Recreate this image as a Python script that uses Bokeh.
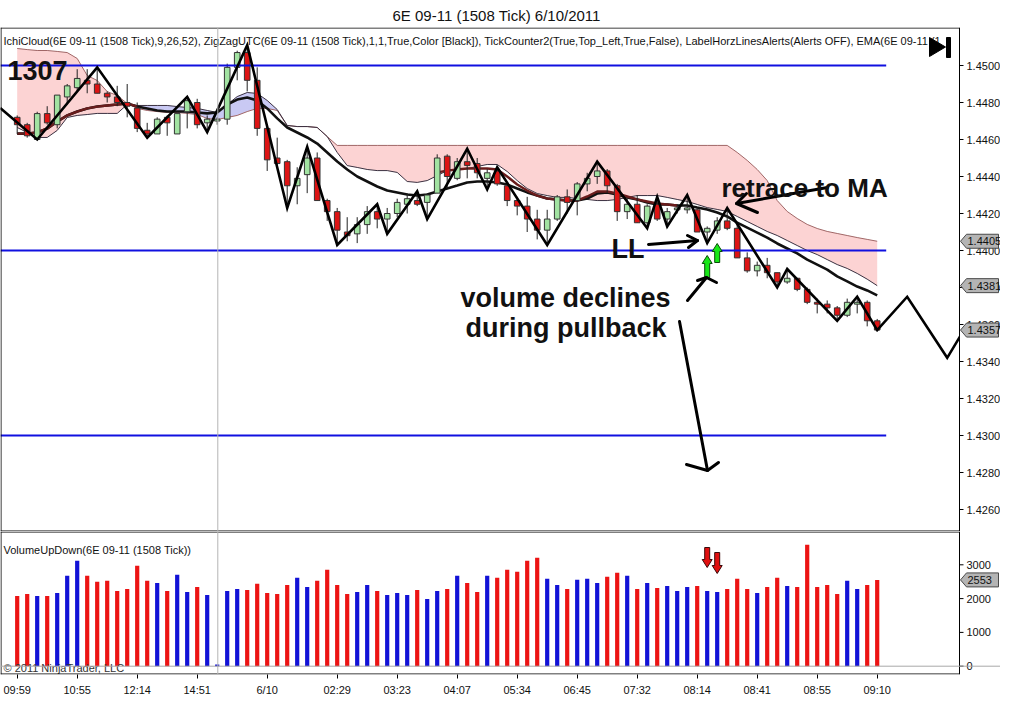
import math
from bokeh.plotting import figure
from bokeh.layouts import column
from bokeh.models import Range1d, Span, Label, ColumnDataSource, Title
from bokeh.core.properties import value
from bokeh.embed import file_html
from bokeh.resources import INLINE

# ---------------- data ----------------
TITLE = "6E 09-11 (1508 Tick)  6/10/2011"
INDICATORS = ("IchiCloud(6E 09-11 (1508 Tick),9,26,52), ZigZagUTC(6E 09-11 (1508 Tick),1,1,True,Color [Black]), "
              "TickCounter2(True,Top_Left,True,False), LabelHorzLinesAlerts(Alerts OFF), EMA(6E 09-11 (1")
VOL_TITLE = "VolumeUpDown(6E 09-11 (1508 Tick))"
COPYRIGHT = "\u00a9 2011 NinjaTrader, LLC"
TICK_COUNT = "1307"

opens = [1.4472, 1.4468, 1.4460, 1.4474, 1.4468, 1.4483, 1.4488, 1.4492, 1.4490, 1.4485,
         1.4483, 1.4480, 1.4477, 1.4465, 1.4463, 1.4472, 1.4463, 1.4475, 1.4480, 1.4469,
         1.4470, 1.4471, 1.4499, 1.4507, 1.4492, 1.4466, 1.4450, 1.4448, 1.4435, 1.4441,
         1.4450, 1.4427, 1.4421, 1.4410, 1.4409, 1.4414, 1.4421, 1.4417, 1.4420, 1.4425,
         1.4427, 1.4426, 1.4431, 1.4451, 1.4439, 1.4448, 1.4447, 1.4439, 1.4443, 1.4435,
         1.4427, 1.4424, 1.4417, 1.4411, 1.4417, 1.4429, 1.4427, 1.4436, 1.4440, 1.4443,
         1.4435, 1.4421, 1.4425, 1.4415, 1.4425, 1.4417, 1.4422, 1.4422, 1.4422, 1.4410,
         1.4411, 1.4416, 1.4412, 1.4396, 1.4389, 1.4392, 1.4388, 1.4383, 1.4385, 1.4379,
         1.4372, 1.4371, 1.4369, 1.4365, 1.4371, 1.4372, 1.4362]
highs = [1.4473, 1.4469, 1.4475, 1.4478, 1.4484, 1.4490, 1.4498, 1.4498, 1.4499, 1.4486,
         1.4489, 1.4490, 1.4480, 1.4469, 1.4472, 1.4473, 1.4474, 1.4483, 1.4482, 1.4473,
         1.4472, 1.4501, 1.4508, 1.4511, 1.4499, 1.4466, 1.4461, 1.4449, 1.4445, 1.4456,
         1.4453, 1.4428, 1.4423, 1.4418, 1.4418, 1.4424, 1.4425, 1.4423, 1.4428, 1.4431,
         1.4432, 1.4431, 1.4452, 1.4452, 1.4450, 1.4455, 1.4450, 1.4444, 1.4445, 1.4437,
         1.4429, 1.4429, 1.4422, 1.4422, 1.4430, 1.4433, 1.4437, 1.4442, 1.4448, 1.4444,
         1.4436, 1.4428, 1.4430, 1.4425, 1.4429, 1.4423, 1.4425, 1.4430, 1.4423, 1.4413,
         1.4418, 1.4423, 1.4414, 1.4399, 1.4394, 1.4396, 1.4388, 1.4390, 1.4385, 1.4380,
         1.4374, 1.4373, 1.4370, 1.4374, 1.4375, 1.4373, 1.4363]
lows = [1.4463, 1.4461, 1.4460, 1.4468, 1.4466, 1.4479, 1.4486, 1.4485, 1.4485, 1.4480,
        1.4478, 1.4472, 1.4464, 1.4461, 1.4463, 1.4462, 1.4463, 1.4466, 1.4466, 1.4464,
        1.4468, 1.4468, 1.4492, 1.4486, 1.4462, 1.4443, 1.4446, 1.4423, 1.4425, 1.4431,
        1.4427, 1.4416, 1.4403, 1.4405, 1.4404, 1.4409, 1.4412, 1.4409, 1.4418, 1.4420,
        1.4424, 1.4417, 1.4431, 1.4434, 1.4438, 1.4439, 1.4439, 1.4433, 1.4435, 1.4424,
        1.4419, 1.4410, 1.4406, 1.4403, 1.4416, 1.4420, 1.4419, 1.4432, 1.4436, 1.4431,
        1.4416, 1.4417, 1.4415, 1.4412, 1.4416, 1.4413, 1.4420, 1.4420, 1.4410, 1.4404,
        1.4409, 1.4411, 1.4396, 1.4388, 1.4386, 1.4385, 1.4380, 1.4382, 1.4378, 1.4371,
        1.4366, 1.4366, 1.4362, 1.4364, 1.4366, 1.4359, 1.4357]
closes = [1.4468, 1.4462, 1.4474, 1.4469, 1.4484, 1.4489, 1.4493, 1.4490, 1.4485, 1.4483,
          1.4480, 1.4478, 1.4466, 1.4463, 1.4471, 1.4469, 1.4474, 1.4481, 1.4468, 1.4471,
          1.4471, 1.4499, 1.4507, 1.4492, 1.4466, 1.4449, 1.4447, 1.4435, 1.4439, 1.4450,
          1.4427, 1.4421, 1.4411, 1.4408, 1.4414, 1.4421, 1.4417, 1.4420, 1.4426, 1.4428,
          1.4425, 1.4430, 1.4450, 1.4440, 1.4448, 1.4446, 1.4442, 1.4442, 1.4436, 1.4427,
          1.4424, 1.4417, 1.4411, 1.4417, 1.4429, 1.4426, 1.4436, 1.4439, 1.4443, 1.4435,
          1.4421, 1.4425, 1.4415, 1.4424, 1.4417, 1.4421, 1.4423, 1.4423, 1.4410, 1.4412,
          1.4416, 1.4412, 1.4396, 1.4389, 1.4392, 1.4388, 1.4383, 1.4385, 1.4379, 1.4372,
          1.4371, 1.4369, 1.4365, 1.4372, 1.4372, 1.4362, 1.4357]
volumes = [2079, 2138, 2079, 2079, 2168, 2673, 3118, 2673, 2495, 2525,
           2228, 2287, 2970, 2525, 2465, 2228, 2703, 2198, 2346, 2109,
           50, 2228, 2287, 2257, 2436, 2168, 2138, 2406, 2614, 2346,
           2525, 2851, 2406, 2138, 2198, 2406, 2228, 2109, 2168, 2109,
           2257, 1990, 2228, 2287, 2673, 2465, 2198, 2673, 2614, 2851,
           2792, 3118, 3207, 2584, 2406, 2287, 2554, 2584, 2465, 2644,
           2762, 2673, 2287, 2465, 2317, 2376, 2228, 2346, 2376, 2228,
           2198, 2287, 2584, 2287, 2168, 2346, 2614, 2376, 2346, 3593,
           2346, 2406, 2138, 2525, 2287, 2406, 2553]
ema = [1.44632, 1.44632, 1.44638, 1.44659, 1.44697, 1.44730, 1.44751, 1.44768, 1.44778, 1.44784,
       1.44789, 1.44795, 1.44778, 1.44768, 1.44757, 1.44751, 1.44751, 1.44751, 1.44746, 1.44741,
       1.44746, 1.44789, 1.44816, 1.44827, 1.44811, 1.44768, 1.44714, 1.44665, 1.44638, 1.44611,
       1.44578, 1.44530, 1.44481, 1.44438, 1.44400, 1.44373, 1.44346, 1.44324, 1.44314, 1.44303,
       1.44297, 1.44303, 1.44319, 1.44335, 1.44351, 1.44368, 1.44373, 1.44373, 1.44368, 1.44357,
       1.44335, 1.44314, 1.44297, 1.44281, 1.44276, 1.44270, 1.44270, 1.44281, 1.44308, 1.44314,
       1.44303, 1.44287, 1.44276, 1.44260, 1.44249, 1.44249, 1.44243, 1.44243, 1.44232, 1.44222,
       1.44205, 1.44184, 1.44151, 1.44124, 1.44097, 1.44070, 1.44038, 1.44011, 1.43984, 1.43951,
       1.43924, 1.43897, 1.43860, 1.43833, 1.43805, 1.43784, 1.43757]
NA = float("nan")
kijun = [1.44632, 1.44632, 1.44638, 1.44659, 1.44697, 1.44730, 1.44751, 1.44768, 1.44778, 1.44784,
         1.44789, 1.44795, 1.44778, NA, NA, NA, NA, NA, NA, NA,
         NA, NA, NA, NA, NA, NA, NA, NA, NA, NA,
         NA, NA, NA, NA, NA, NA, NA, NA, NA, NA,
         NA, NA, 1.44422, 1.44432, 1.44438, 1.44443, 1.44443, 1.44443, 1.44438, 1.44400,
         1.44357, 1.44324, 1.44297, 1.44281, 1.44276, 1.44270, 1.44270, 1.44292, 1.44319, 1.44319,
         1.44308, 1.44292, 1.44276, 1.44265, 1.44254, 1.44249, 1.44243, NA, NA, NA,
         NA, NA, NA, NA, NA, NA, NA, NA, NA, NA,
         NA, NA, NA, NA, NA, NA, NA]
span_a = [1.44665, 1.44638, 1.44611, 1.44611, 1.44649, 1.44719, 1.44730, 1.44735, 1.44741, 1.44741,
          1.44741, 1.44789, 1.44784, 1.44784, 1.44784, 1.44784, 1.44778, 1.44773, 1.44768, 1.44757,
          1.44746, 1.44789, 1.44832, 1.44854, 1.44849, 1.44811, 1.44762, 1.44676, 1.44670, 1.44670,
          1.44665, 1.44616, 1.44530, 1.44459, 1.44449, 1.44438, 1.44432, 1.44432, 1.44422, 1.44373,
          1.44368, 1.44378, 1.44405, 1.44432, 1.44438, 1.44443, 1.44454, 1.44465, 1.44465, 1.44427,
          1.44378, 1.44335, 1.44308, 1.44297, 1.44287, 1.44287, 1.44281, 1.44276, 1.44270, 1.44270,
          1.44276, 1.44287, 1.44297, 1.44297, 1.44297, 1.44287, 1.44276, 1.44265, 1.44249, 1.44232,
          1.44222, 1.44211, 1.44184, 1.44157, 1.44130, 1.44103, 1.44081, 1.44054, 1.44027, 1.44000,
          1.43978, 1.43951, 1.43924, 1.43903, 1.43876, 1.43845, 1.43810]
span_b = [1.45092, 1.45086, 1.45081, 1.45081, 1.45076, 1.45070, 1.45038, 1.44946, 1.44919, 1.44859,
          1.44838, 1.44795, 1.44768, 1.44757, 1.44751, 1.44746, 1.44746, 1.44741, 1.44735, 1.44714,
          1.44708, 1.44719, 1.44730, 1.44751, 1.44768, 1.44768, 1.44757, 1.44676, 1.44670, 1.44670,
          1.44665, 1.44616, 1.44568, 1.44568, 1.44568, 1.44568, 1.44568, 1.44568, 1.44568, 1.44568,
          1.44568, 1.44568, 1.44568, 1.44568, 1.44568, 1.44568, 1.44568, 1.44568, 1.44568, 1.44568,
          1.44568, 1.44568, 1.44568, 1.44568, 1.44568, 1.44568, 1.44568, 1.44568, 1.44568, 1.44568,
          1.44568, 1.44568, 1.44568, 1.44568, 1.44568, 1.44568, 1.44568, 1.44568, 1.44568, 1.44568,
          1.44568, 1.44568, 1.44530, 1.44487, 1.44438, 1.44378, 1.44270, 1.44211, 1.44173, 1.44141,
          1.44119, 1.44103, 1.44092, 1.44081, 1.44070, 1.44060, 1.44050]
zz_x = [-1.7, 2, 8, 13, 17, 19, 23, 27, 29, 32, 36, 37, 40, 41, 45, 47, 48, 53, 58,
        63, 64, 65, 67, 69, 71, 76, 77, 82, 84, 86, 89, 93, 96]
zz_y = [1.4477, 1.4460, 1.4499, 1.4461, 1.4483, 1.4464, 1.4511, 1.4423, 1.4456, 1.4403,
        1.4425, 1.4409, 1.4432, 1.4417, 1.4455, 1.4433, 1.4445, 1.4403, 1.4448,
        1.4412, 1.4429, 1.4413, 1.4430, 1.4404, 1.4423, 1.4380, 1.4390, 1.4362, 1.4375,
        1.4357, 1.4375, 1.4342, 1.4369]
h_levels = [1.4500, 1.4400, 1.4300]
price_ticks = [1.4260, 1.4280, 1.4300, 1.4320, 1.4340, 1.4360, 1.4380,
               1.4400, 1.4420, 1.4440, 1.4460, 1.4480, 1.4500]
vol_ticks = [0, 1000, 2000, 3000]
x_tick_idx = [0, 6, 12, 18, 25, 32, 38, 44, 50, 56, 62, 68, 74, 80, 86]
x_tick_lbl = ["09:59", "10:55", "12:14", "14:51", "6/10", "02:29", "03:23", "04:07",
              "05:34", "06:45", "07:32", "08:14", "08:41", "08:55", "09:10"]
session_break = 20
signal_bars = [69, 70]

# ---------------- styles ----------------
FONT = "Liberation Sans"
UP_FILL, DOWN_FILL = "#a2e3a2", "#dd1414"
VOL_UP, VOL_DOWN = "#1212d6", "#ec1313"
PINK, LAVENDER = "#fcd3d3", "#c9c9f3"
TAG_FILL, TAG_LINE = "#b4b4b4", "#4a4a4a"

# helpers for placing annotations (reference pixel -> data)
def X(px):
    return (px - 16.7) / 10.0

def Y(py):
    return 1.45 - (py - 65) / 18500.0

def V(py):
    return (665.7 - py) / 0.0338

AX = X(959)          # right edge of the plotting area (price axis line)

n = len(closes)
idx = list(range(n))
up = [c >= o for o, c in zip(opens, closes)]
src = ColumnDataSource(dict(
    x=idx, h=highs, l=lows,
    top=[max(o, c) for o, c in zip(opens, closes)],
    bot=[min(o, c) for o, c in zip(opens, closes)],
    fill=[UP_FILL if u else DOWN_FILL for u in up],
    vol=volumes, vcol=[VOL_UP if u else VOL_DOWN for u in up],
    ema=ema, kij=kijun, sa=span_a, sb=span_b,
    smax=[max(a, b) for a, b in zip(span_a, span_b)],
))

xr = Range1d(X(0), X(1000))
p1 = figure(width=1000, height=531, x_range=xr, y_range=Range1d(Y(531), Y(27)),
            output_backend="svg", toolbar_location=None, tools="",
            x_axis_location=None, y_axis_location=None,
            min_border_left=0, min_border_right=0, min_border_top=27, min_border_bottom=0)
p2 = figure(width=1000, height=173, x_range=xr, y_range=Range1d(V(674), V(531)),
            output_backend="svg", toolbar_location=None, tools="",
            y_axis_location=None,
            min_border_left=0, min_border_right=0, min_border_top=0, min_border_bottom=30)

p1.title = Title(text=TITLE, align="left", offset=392, text_font=FONT, text_font_size="15px",
                 text_font_style="normal", text_color="#111111", standoff=8)

for p in (p1, p2):
    p.grid.visible = False
    p.outline_line_color = None
    p.background_fill_color = "white"
    p.border_fill_color = "white"
    p.add_layout(Span(location=session_break + 0.06, dimension="height",
                      line_color="#b4b4b4", line_width=1))

ax = p2.xaxis[0]
ax.axis_line_color = None
ax.major_tick_line_color = "black"
ax.major_tick_out = 4
ax.major_tick_in = 0
ax.minor_tick_line_color = None
ax.major_label_text_font = FONT
ax.major_label_text_font_size = "11px"
ax.major_label_text_color = "#111111"
ax.major_label_standoff = 5
ax.ticker = x_tick_idx
ax.major_label_overrides = {k: v for k, v in zip(x_tick_idx, x_tick_lbl)}

# ---- price panel ----
p1.varea(x="x", y1="sa", y2="smax", source=src, fill_color=PINK)
p1.varea(x="x", y1="sb", y2="smax", source=src, fill_color=LAVENDER)
p1.line("x", "sb", source=src, line_color="#a06666", line_width=1)
p1.line("x", "sa", source=src, line_color="#3a3040", line_width=1)
p1.line("x", "ema", source=src, line_color="#111111", line_width=2.6)
p1.line("x", "kij", source=src, line_color="#6a1c1c", line_width=2.4)

p1.segment(x0="x", y0="h", x1="x", y1="l", source=src, line_color="#222222", line_width=1)
p1.vbar(x="x", top="top", bottom="bot", width=0.56, source=src,
        fill_color="fill", line_color="#333333", line_width=1)

p1.segment(x0=[xr.start] * len(h_levels), y0=h_levels,
           x1=[n - 1 + 0.9] * len(h_levels), y1=h_levels,
           line_color="#1010e0", line_width=2)
p1.line(zz_x, zz_y, line_color="black", line_width=2.6, line_join="miter")

# signal arrows (green, under the price bars)
g_xs, g_ys = [], []
for b, (tip, base) in zip(signal_bars, [(255, 277), (243, 262)]):
    cx = 16.7 + 10 * b
    pts = [(cx, tip), (cx + 5, tip + 8), (cx + 2.5, tip + 8), (cx + 2.5, base),
           (cx - 2.5, base), (cx - 2.5, tip + 8), (cx - 5, tip + 8)]
    g_xs.append([X(a) for a, _ in pts])
    g_ys.append([Y(c) for _, c in pts])
p1.patches(g_xs, g_ys, fill_color="#18e818", line_color="#0a4a0a", line_width=1)

# hand-drawn annotation arrows
arrows_px = [
    [(827, 187), (736, 203)], [(746, 193), (736, 203), (757, 212)],
    [(648, 244), (697, 240)], [(687, 235), (697, 240), (688, 247)],
    [(687, 300), (706, 277)], [(697, 280), (706, 277), (716, 282)],
    [(679, 321), (707, 470)], [(686, 464), (707, 470), (718, 462)],
]
p1.multi_line([[X(a) for a, _ in ln] for ln in arrows_px],
              [[Y(c) for _, c in ln] for ln in arrows_px],
              line_color="black", line_width=3, line_join="round", line_cap="round")

for txt, px, py, fs in [("retrace to MA", 721, 187, "26px"), ("LL", 611, 248, "27px"),
                        ("volume declines", 460, 297, "27px"), ("during pullback", 465, 327, "27px")]:
    p1.add_layout(Label(x=X(px), y=Y(py), text=txt, text_font=FONT, text_font_size=fs,
                        text_font_style="bold", text_color="#111111",
                        text_baseline="alphabetic", text_align="left"))

p1.add_layout(Label(x=X(7), y=Y(70), text=TICK_COUNT, text_font=FONT, text_font_size="27px",
                    text_font_style="bold", text_color="#111111", text_baseline="alphabetic"))
p1.text(x=[X(3)], y=[Y(40)], text=[INDICATORS], text_font=value(FONT),
        text_font_size=value("11px"), text_baseline=value("middle"), text_color=value("#111111"))

# "jump to end" icon
p1.patch([X(929), X(929), X(945)], [Y(37), Y(56), Y(46.5)], fill_color="black", line_color="black")
p1.quad(left=[X(946)], right=[X(950)], top=[Y(37)], bottom=[Y(57)], fill_color="black", line_color="black")


def right_axis(p, lo, hi, top_edge, bottom_edge, ticks, labels, tags, tag_labels, unit_per_px):
    # white margin right of the plotting area, panel border, ticks, labels and value tags
    p.quad(left=[AX], right=[xr.end], bottom=[lo], top=[hi], fill_color="white", line_color=None)
    p.multi_line([[X(0.5), X(0.5)], [X(0), AX], [X(0), AX], [AX, AX]],
                 [[lo, hi], [top_edge, top_edge], [bottom_edge, bottom_edge], [lo, hi]],
                 line_color="black", line_width=1)
    p.segment(x0=[AX] * len(ticks), y0=ticks, x1=[X(963)] * len(ticks), y1=ticks,
              line_color="black", line_width=1)
    p.text(x=[X(966)] * len(ticks), y=ticks, text=labels, text_font=value(FONT),
           text_font_size=value("11px"), text_baseline=value("middle"), text_color=value("#111111"))
    h = 7 * unit_per_px
    xs = [[X(960), X(966), X(998), X(998), X(966)] for _ in tags]
    ys = [[t, t + h, t + h, t - h, t - h] for t in tags]
    p.patches(xs, ys, fill_color=TAG_FILL, line_color=TAG_LINE, line_width=1)
    p.text(x=[X(967)] * len(tags), y=tags, text=tag_labels, text_font=value(FONT),
           text_font_size=value("11px"), text_baseline=value("middle"), text_color=value("#111111"))


tag_vals = [span_b[-1], span_a[-1], closes[-1]]
right_axis(p1, Y(531), Y(27), Y(27.5), Y(530.5), price_ticks, ["%.4f" % t for t in price_ticks],
           tag_vals, ["%.4f" % t for t in tag_vals], 1 / 18500.0)

# ---- volume panel ----
p2.add_layout(Span(location=0, dimension="width", line_color="#a8a8a8", line_width=1))
p2.vbar(x="x", top="vol", bottom=0, width=0.42, source=src, fill_color="vcol", line_color=None)

r_xs, r_ys = [], []
for b, (top_, tip) in zip(signal_bars, [(547, 567), (552, 573)]):
    cx = 16.7 + 10 * b
    pts = [(cx, tip), (cx + 5, tip - 8), (cx + 2.5, tip - 8), (cx + 2.5, top_),
           (cx - 2.5, top_), (cx - 2.5, tip - 8), (cx - 5, tip - 8)]
    r_xs.append([X(a) for a, _ in pts])
    r_ys.append([V(c) for _, c in pts])
p2.patches(r_xs, r_ys, fill_color="#e01010", line_color="#3a0a0a", line_width=1)

p2.text(x=[X(3)], y=[V(549)], text=[VOL_TITLE], text_font=value(FONT),
        text_font_size=value("11px"), text_baseline=value("middle"), text_color=value("#111111"))
p2.text(x=[X(3)], y=[V(667)], text=[COPYRIGHT], text_font=value(FONT),
        text_font_size=value("11px"), text_baseline=value("middle"), text_color=value("#333333"))

right_axis(p2, V(674), V(531), V(531.5), V(673.5), vol_ticks, ["%d" % t for t in vol_ticks],
           [volumes[-1]], ["%d" % volumes[-1]], 1 / 0.0338)

layout = column(p1, p2, spacing=0)
open("out.html", "w").write(file_html(layout, INLINE))
